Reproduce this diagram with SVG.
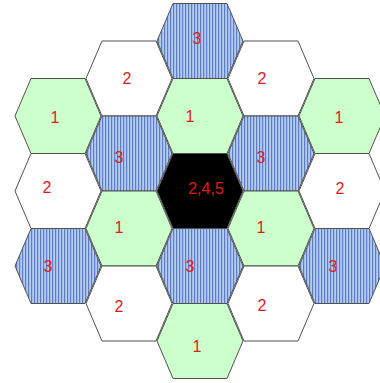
<svg xmlns="http://www.w3.org/2000/svg" width="380" height="383" viewBox="0 0 380 383">
<defs>
<pattern id="stripes" width="3" height="10" patternUnits="userSpaceOnUse">
<rect width="3" height="10" fill="#b4cbf2"/>
<rect x="0" width="1.2" height="10" fill="#5c7cc4"/>
</pattern>
<polygon id="hex" points="-43,0 -27,-37.5 27,-37.5 43,0 27,37.5 -27,37.5"/>
</defs>
<style>
.h use{stroke:#505050;stroke-width:1;stroke-linejoin:miter}
.g use{fill:#ccffcc}
.w use{fill:#ffffff}
.b use{fill:url(#stripes)}
.k use{fill:#000000}
text{font-family:"Liberation Sans",Arial,sans-serif;font-size:16px;fill:#e01a1a;text-anchor:middle}
</style>
<rect width="380" height="383" fill="#ffffff"/>
<g id="c0r0" class="h g" transform="translate(58,116)"><use href="#hex"/><text x="-3" y="7">1</text></g>
<g id="c0r1" class="h w" transform="translate(58,191)"><use href="#hex"/><text x="-11" y="2">2</text></g>
<g id="c0r2" class="h b" transform="translate(58,266)"><use href="#hex"/><text x="-10" y="6">3</text></g>
<g id="c1r0" class="h w" transform="translate(129,78.5)"><use href="#hex"/><text x="-2" y="5.5">2</text></g>
<g id="c1r1" class="h b" transform="translate(129,153.5)"><use href="#hex"/><text x="-10" y="9.5">3</text></g>
<g id="c1r2" class="h g" transform="translate(129,228.5)"><use href="#hex"/><text x="-10" y="4.5">1</text></g>
<g id="c1r3" class="h w" transform="translate(129,303.5)"><use href="#hex"/><text x="-10" y="8.5">2</text></g>
<g id="c2r0" class="h b" transform="translate(200,41)"><use href="#hex"/><text x="-3" y="3">3</text></g>
<g id="c2r1" class="h g" transform="translate(200,116)"><use href="#hex"/><text x="-10" y="6">1</text></g>
<g id="c2r2" class="h k" transform="translate(200,191)"><use href="#hex"/><text x="6" y="3">2,4,5</text></g>
<g id="c2r3" class="h b" transform="translate(200,266)"><use href="#hex"/><text x="-10" y="6">3</text></g>
<g id="c2r4" class="h g" transform="translate(200,341)"><use href="#hex"/><text x="-3" y="11">1</text></g>
<g id="c3r0" class="h w" transform="translate(271,78.5)"><use href="#hex"/><text x="-9" y="5.5">2</text></g>
<g id="c3r1" class="h b" transform="translate(271,153.5)"><use href="#hex"/><text x="-10" y="9.5">3</text></g>
<g id="c3r2" class="h g" transform="translate(271,228.5)"><use href="#hex"/><text x="-10" y="4.5">1</text></g>
<g id="c3r3" class="h w" transform="translate(271,303.5)"><use href="#hex"/><text x="-9" y="7.5">2</text></g>
<g id="c4r0" class="h g" transform="translate(342,116)"><use href="#hex"/><text x="-3" y="7">1</text></g>
<g id="c4r1" class="h w" transform="translate(342,191)"><use href="#hex"/><text x="-2" y="3">2</text></g>
<g id="c4r2" class="h b" transform="translate(342,266)"><use href="#hex"/><text x="-9" y="6">3</text></g>
</svg>
